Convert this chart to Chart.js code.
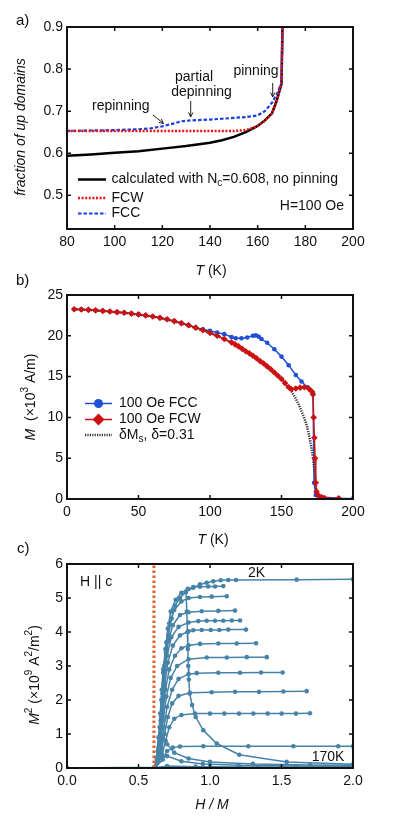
<!DOCTYPE html>
<html>
<head>
<meta charset="utf-8">
<title>Domains, magnetization and Arrott plot</title>
<script src="https://cdn.jsdelivr.net/npm/chart.js"></script>
<style>
  body { margin: 0; background: #fff; }
  #wrap { position: relative; width: 399px; height: 826px; }
  canvas { position: absolute; left: 0; }
</style>
</head>
<body>
<div id="wrap">
  <canvas id="chartA" width="399" height="280" style="top:0px"></canvas>
  <canvas id="chartB" width="399" height="282" style="top:268px"></canvas>
  <canvas id="chartC" width="399" height="296" style="top:530px"></canvas>
</div>

<script>
// ---------- panel a: fraction of up domains ----------
var tCalc   = [80, 90, 100, 110, 120, 130, 140, 145, 150, 155, 160, 163, 166, 168, 170, 170.5];
var fracCalc = [0.594, 0.597, 0.601, 0.605, 0.611, 0.617, 0.625, 0.631, 0.639, 0.650, 0.665, 0.678, 0.695, 0.725, 0.765, 0.93];
var tFCW    = [80, 100, 120, 140, 150, 155, 158, 160, 163, 166, 168, 170, 170.5];
var fracFCW = [0.653, 0.653, 0.653, 0.653, 0.653, 0.655, 0.660, 0.665, 0.677, 0.695, 0.725, 0.767, 0.93];
var tFCC    = [80, 90, 100, 110, 115, 120, 125, 128, 132, 140, 145, 150, 155, 160, 163, 166, 168, 170, 170.5];
var fracFCC = [0.653, 0.654, 0.655, 0.657, 0.659, 0.664, 0.671, 0.676, 0.678, 0.680, 0.682, 0.684, 0.686, 0.690, 0.700, 0.720, 0.740, 0.768, 0.93];
var xTicksA = [80, 100, 120, 140, 160, 180, 200];
var yTicksA = [0.5, 0.6, 0.7, 0.8, 0.9];

// ---------- panel b: magnetization vs temperature ----------
var tFCCb = [5, 10, 15, 20, 25, 30, 35, 40, 45, 50, 55, 60, 65, 70, 75, 80, 85, 90, 95, 100, 105, 110, 115, 118, 122, 126, 130, 132, 134, 136, 140, 145, 150, 155, 160, 164, 168, 172, 172.8, 174, 176, 178, 190, 200];
var mFCC  = [23.25, 23.22, 23.18, 23.12, 23.05, 22.97, 22.9, 22.82, 22.72, 22.62, 22.5, 22.36, 22.2, 22.02, 21.8, 21.55, 21.3, 21.0, 20.8, 20.6, 20.4, 20.2, 19.85, 19.7, 19.7, 19.8, 20.0, 20.05, 19.9, 19.6, 19.15, 18.35, 17.45, 16.4, 15.2, 14.4, 13.7, 13.0, 2.0, 0.5, 0.3, 0.25, 0.08, 0.04];
var tFCWb = [5, 10, 15, 20, 25, 30, 35, 40, 45, 50, 55, 60, 65, 70, 75, 80, 85, 90, 95, 100, 105, 110, 115, 117.5, 120, 122.5, 125, 127.5, 130, 132.5, 135, 137.5, 140, 142.5, 145, 147.5, 150, 152.5, 155, 157, 160, 163, 166, 169, 171, 172, 172.5, 173, 173.5, 174, 174.5, 176, 178, 180, 190];
var mFCW  = [23.25, 23.22, 23.18, 23.12, 23.05, 22.97, 22.9, 22.82, 22.72, 22.62, 22.5, 22.36, 22.2, 22.02, 21.8, 21.55, 21.3, 21.0, 20.7, 20.35, 20.0, 19.6, 19.2, 18.95, 18.7, 18.4, 18.1, 17.85, 17.55, 17.25, 16.9, 16.6, 16.25, 15.9, 15.5, 15.1, 14.7, 14.2, 13.7, 13.45, 13.55, 13.65, 13.7, 13.55, 13.2, 12.8, 10.0, 7.5, 5.0, 2.0, 0.9, 0.4, 0.2, 0.12, 0.1];
var tMs   = [5, 20, 40, 60, 80, 100, 110, 120, 130, 140, 150, 155, 157, 160, 163, 166, 168, 170, 171, 172, 173, 174, 174.6];
var mMs   = [23.25, 23.12, 22.82, 22.36, 21.55, 20.35, 19.6, 18.7, 17.55, 16.25, 14.7, 13.7, 13.2, 12.3, 11.2, 9.9, 8.8, 7.2, 6.2, 5.0, 3.5, 1.8, 0.3];
var xTicksB = [0, 50, 100, 150, 200];
var yTicksB = [0, 5, 10, 15, 20, 25];

// ---------- panel c: M^2 vs H/M isotherms ----------
var Nc = 0.608;
var iso2K = [[0, 0], [0.61, 0.02], [0.625, 0.3], [0.64, 0.9], [0.652, 1.6], [0.662, 2.3], [0.673, 2.9], [0.692, 3.4], [0.709, 3.9], [0.732, 4.4], [0.755, 4.78], [0.79, 5.0], [0.832, 5.18], [0.883, 5.3], [0.93, 5.4], [0.977, 5.45], [1.023, 5.49], [1.075, 5.52], [1.128, 5.53], [1.182, 5.53], [1.606, 5.54], [2.0, 5.55]];
var isoB = [[0.62, 0.02], [0.635, 0.5], [0.648, 1.2], [0.66, 2.0], [0.672, 2.8], [0.688, 3.5], [0.705, 4.1], [0.725, 4.6], [0.76, 4.95], [0.80, 5.15], [0.845, 5.27], [0.883, 5.32], [0.93, 5.33], [0.988, 5.34], [1.035, 5.34], [1.093, 5.35]];
var isoC = [[0.62, 0.02], [0.64, 0.6], [0.655, 1.4], [0.668, 2.2], [0.68, 3.0], [0.695, 3.7], [0.715, 4.25], [0.75, 4.65], [0.80, 4.9], [0.85, 5.0], [0.93, 5.03], [1.012, 5.04], [1.117, 5.05]];
var isoD = [[0.62, 0.02], [0.645, 0.7], [0.66, 1.5], [0.672, 2.3], [0.688, 3.1], [0.71, 3.75], [0.74, 4.2], [0.79, 4.5], [0.85, 4.58], [0.942, 4.61], [1.058, 4.62], [1.175, 4.63]];
var isoE = [[0.62, 0.02], [0.648, 0.8], [0.662, 1.6], [0.678, 2.5], [0.70, 3.3], [0.73, 3.85], [0.78, 4.15], [0.85, 4.28], [0.918, 4.32], [0.977, 4.33], [1.035, 4.33], [1.093, 4.33], [1.152, 4.34], [1.21, 4.34]];
var isoF = [[0.62, 0.02], [0.65, 0.8], [0.665, 1.6], [0.682, 2.4], [0.705, 3.1], [0.74, 3.6], [0.79, 3.9], [0.85, 4.02], [0.883, 4.05], [0.942, 4.06], [1.005, 4.06], [1.065, 4.06], [1.128, 4.07], [1.252, 4.07]];
var isoG = [[0.62, 0.02], [0.652, 0.8], [0.668, 1.5], [0.688, 2.3], [0.715, 2.9], [0.755, 3.3], [0.80, 3.52], [0.85, 3.61], [0.93, 3.65], [1.058, 3.66], [1.187, 3.66], [1.322, 3.67]];
var isoH = [[0.62, 0.02], [0.655, 0.7], [0.672, 1.4], [0.695, 2.1], [0.725, 2.65], [0.77, 3.0], [0.85, 3.2], [0.977, 3.25], [1.117, 3.25], [1.257, 3.26], [1.397, 3.26]];
var isoI = [[0.62, 0.02], [0.658, 0.6], [0.678, 1.2], [0.70, 1.8], [0.735, 2.3], [0.78, 2.62], [0.85, 2.76], [0.907, 2.79], [1.058, 2.8], [1.21, 2.8], [1.357, 2.81], [1.508, 2.81]];
var isoJ = [[0.62, 0.02], [0.66, 0.5], [0.682, 1.0], [0.705, 1.5], [0.735, 1.9], [0.78, 2.12], [0.86, 2.21], [1.012, 2.23], [1.175, 2.24], [1.343, 2.24], [1.513, 2.25], [1.676, 2.26]];
var isoK = [[0.62, 0.02], [0.665, 0.4], [0.69, 0.8], [0.715, 1.2], [0.75, 1.45], [0.80, 1.56], [0.895, 1.6], [1.0, 1.6], [1.1, 1.6], [1.203, 1.6], [1.303, 1.6], [1.403, 1.6], [1.501, 1.6], [1.601, 1.6], [1.699, 1.61]];
var isoL = [[0.62, 0.02], [0.67, 0.25], [0.70, 0.5], [0.74, 0.6], [0.79, 0.63], [0.953, 0.64], [1.268, 0.64], [1.583, 0.64], [1.897, 0.64], [2.0, 0.64]];
var isoM = [[0.832, 5.18], [0.838, 4.6], [0.842, 4.0], [0.845, 3.5], [0.848, 3.0], [0.852, 2.6], [0.858, 2.19], [0.875, 1.85], [0.90, 1.5], [0.953, 1.11], [1.047, 0.72], [1.205, 0.39], [1.536, 0.18], [2.0, 0.11]];
var isoN = [[0.62, 0.02], [0.65, 0.5], [0.67, 0.9], [0.70, 0.7], [0.75, 0.45], [0.85, 0.28], [1.0, 0.18], [1.3, 0.12], [1.7, 0.09], [2.0, 0.08]];
var isoO = [[0.62, 0.02], [0.66, 0.3], [0.70, 0.35], [0.80, 0.2], [0.95, 0.12], [1.2, 0.08], [1.6, 0.06], [2.0, 0.05]];
var iso170K = [[0.62, 0.01], [0.70, 0.06], [0.90, 0.04], [1.0, 0.04], [1.21, 0.03], [1.338, 0.03], [1.501, 0.03], [1.8, 0.03], [1.82, 0.03], [2.0, 0.03]];
var xTicksC = [0, 0.5, 1.0, 1.5, 2.0];
var yTicksC = [0, 1, 2, 3, 4, 5, 6];

var FONT = '"Liberation Sans", Arial, sans-serif';
Chart.defaults.font.family = FONT;
Chart.defaults.color = '#111';

function pts(xs, ys) { return xs.map(function (x, i) { return { x: x, y: ys[i] }; }); }
function pairs(arr) { return arr.map(function (p) { return { x: p[0], y: p[1] }; }); }

function axis(min, max, ticks, fmt, size, horiz) {
  return {
    type: 'linear', min: min, max: max,
    grid: { display: false, drawTicks: false },
    border: { display: false },
    ticks: { font: { size: 14 }, color: '#111', padding: horiz ? 5 : 4, callback: fmt, maxRotation: 0, autoSkip: false },
    afterBuildTicks: function (s) { s.ticks = ticks.map(function (v) { return { value: v }; }); },
    afterFit: function (s) { if (horiz) s.height = size; else s.width = size; }
  };
}

// box around the plot with inward ticks on all four sides
var frame = {
  id: 'frame',
  afterDatasetsDraw: function (chart) {
    var ctx = chart.ctx, a = chart.chartArea, x = chart.scales.x, y = chart.scales.y;
    ctx.save();
    ctx.strokeStyle = '#111';
    ctx.lineWidth = 1.5;
    ctx.beginPath();
    x.ticks.forEach(function (t) {
      var p = x.getPixelForValue(t.value);
      ctx.moveTo(p, a.bottom); ctx.lineTo(p, a.bottom - 4);
      ctx.moveTo(p, a.top); ctx.lineTo(p, a.top + 4);
    });
    y.ticks.forEach(function (t) {
      var p = y.getPixelForValue(t.value);
      ctx.moveTo(a.left, p); ctx.lineTo(a.left + 4, p);
      ctx.moveTo(a.right, p); ctx.lineTo(a.right - 4, p);
    });
    ctx.stroke();
    ctx.lineWidth = 2;
    ctx.strokeRect(a.left, a.top, a.right - a.left, a.bottom - a.top);
    ctx.restore();
  }
};

// text with italic / sub / sup pieces
function rich(ctx, parts, x, y, align, size) {
  size = size || 14;
  function fontFor(k) {
    var small = (k === 'sub' || k === 'sup');
    return (k === 'i' ? 'italic ' : '') + (small ? Math.round(size * 0.72) : size) + 'px ' + FONT;
  }
  var w = 0;
  parts.forEach(function (p) { ctx.font = fontFor(p[1]); w += ctx.measureText(p[0]).width; });
  var cx = align === 'center' ? x - w / 2 : (align === 'right' ? x - w : x);
  ctx.textAlign = 'left';
  ctx.textBaseline = 'middle';
  parts.forEach(function (p) {
    ctx.font = fontFor(p[1]);
    var dy = p[1] === 'sub' ? 4 : (p[1] === 'sup' ? -6 : 0);
    ctx.fillText(p[0], cx, y + dy);
    cx += ctx.measureText(p[0]).width;
  });
}

function vtitle(ctx, parts, cx, cy) {
  ctx.save();
  ctx.translate(cx, cy);
  ctx.rotate(-Math.PI / 2);
  rich(ctx, parts, 0, 0, 'center');
  ctx.restore();
}

function arrow(ctx, x1, y1, x2, y2) {
  var ang = Math.atan2(y2 - y1, x2 - x1), h = 5;
  ctx.save();
  ctx.strokeStyle = '#222';
  ctx.lineWidth = 1;
  ctx.beginPath();
  ctx.moveTo(x1, y1); ctx.lineTo(x2, y2);
  ctx.moveTo(x2 - h * Math.cos(ang - 0.45), y2 - h * Math.sin(ang - 0.45));
  ctx.lineTo(x2, y2);
  ctx.lineTo(x2 - h * Math.cos(ang + 0.45), y2 - h * Math.sin(ang + 0.45));
  ctx.stroke();
  ctx.restore();
}

function sample(ctx, ds, x1, x2, y, marker) {
  ctx.save();
  ctx.strokeStyle = ds.borderColor;
  ctx.lineWidth = ds.borderWidth;
  ctx.setLineDash(ds.borderDash || []);
  ctx.beginPath(); ctx.moveTo(x1, y); ctx.lineTo(x2, y); ctx.stroke();
  ctx.setLineDash([]);
  var m = (x1 + x2) / 2;
  ctx.fillStyle = ds.borderColor;
  if (marker === 'circle') {
    ctx.beginPath(); ctx.arc(m, y, 4.5, 0, Math.PI * 2); ctx.fill();
  } else if (marker === 'diamond') {
    ctx.beginPath(); ctx.moveTo(m, y - 6); ctx.lineTo(m + 6, y); ctx.lineTo(m, y + 6); ctx.lineTo(m - 6, y); ctx.closePath(); ctx.fill();
  }
  ctx.restore();
}

var commonOpts = function (pad, scales) {
  return {
    responsive: false, animation: false,
    layout: { padding: pad },
    plugins: { legend: { display: false }, tooltip: { enabled: false } },
    scales: scales
  };
};

// ---------- chart a ----------
var dsA = [
  { label: 'FCW', data: pts(tFCW, fracFCW), borderColor: '#f01010', borderWidth: 2.5, borderDash: [2, 1.6], pointRadius: 0, order: 0 },
  { label: 'FCC', data: pts(tFCC, fracFCC), borderColor: '#1a3fe0', borderWidth: 2.2, borderDash: [3.5, 2], pointRadius: 0, order: 1 },
  { label: 'calculated with Nc=0.608, no pinning', data: pts(tCalc, fracCalc), borderColor: '#000', borderWidth: 2.5, pointRadius: 0, order: 2 }
];
var notesA = {
  id: 'notesA',
  afterDraw: function (chart) {
    var ctx = chart.ctx;
    ctx.save();
    ctx.fillStyle = '#111';
    rich(ctx, [['a)', '']], 16, 21, 'left', 15);
    rich(ctx, [['repinning', '']], 92, 106, 'left');
    arrow(ctx, 153, 115, 163.5, 123.5);
    rich(ctx, [['partial', '']], 194, 77, 'center');
    rich(ctx, [['depinning', '']], 201.5, 92, 'center');
    arrow(ctx, 190.7, 101, 190.7, 117);
    rich(ctx, [['pinning', '']], 256, 71.5, 'center');
    arrow(ctx, 272.7, 83, 272.7, 97);
    sample(ctx, dsA[2], 78, 106, 179.5);
    sample(ctx, dsA[0], 78, 106, 198);
    sample(ctx, dsA[1], 78, 106, 213.5);
    ctx.fillStyle = '#111';
    rich(ctx, [['calculated with N', ''], ['c', 'sub'], ['=0.608, no pinning', '']], 111.5, 179.5, 'left');
    rich(ctx, [['FCW', '']], 111.5, 198, 'left');
    rich(ctx, [['FCC', '']], 111.5, 213.5, 'left');
    rich(ctx, [['H=100 Oe', '']], 344, 206, 'right');
    rich(ctx, [['T', 'i'], [' (K)', '']], 211, 271, 'center');
    vtitle(ctx, [['fraction of up domains', 'i']], 21, 127);
    ctx.restore();
  }
};
new Chart(document.getElementById('chartA'), {
  type: 'line',
  data: { datasets: dsA },
  options: commonOpts({ left: 0, right: 46, top: 27, bottom: 31 }, {
    x: axis(80, 200, xTicksA, function (v) { return String(v); }, 20, true),
    y: axis(0.42, 0.9, yTicksA, function (v) { return v.toFixed(1); }, 67, false)
  }),
  plugins: [frame, notesA]
});

// ---------- chart b ----------
var dsB = [
  { label: '100 Oe FCW', data: pts(tFCWb, mFCW), borderColor: '#cc1111', backgroundColor: '#cc1111', borderWidth: 1.5, pointStyle: 'rectRot', pointRadius: 3.3, pointBorderWidth: 0, order: 0 },
  { label: 'δMs, δ=0.31', data: pts(tMs, mMs), borderColor: '#333', borderWidth: 2.5, borderDash: [1.2, 1.2], pointRadius: 0, order: 1 },
  { label: '100 Oe FCC', data: pts(tFCCb, mFCC), borderColor: '#1f4fd6', backgroundColor: '#1f4fd6', borderWidth: 1.5, pointStyle: 'circle', pointRadius: 2.3, pointBorderWidth: 0, order: 2 }
];
var notesB = {
  id: 'notesB',
  afterDraw: function (chart) {
    var ctx = chart.ctx;
    ctx.save();
    ctx.fillStyle = '#111';
    rich(ctx, [['b)', '']], 16, 13, 'left', 15);
    sample(ctx, dsB[2], 85, 112, 135.5, 'circle');
    sample(ctx, dsB[0], 85, 112, 151.5, 'diamond');
    sample(ctx, dsB[1], 85, 112, 167);
    ctx.fillStyle = '#111';
    rich(ctx, [['100 Oe FCC', '']], 119, 135.5, 'left');
    rich(ctx, [['100 Oe FCW', '']], 119, 151.5, 'left');
    rich(ctx, [['δM', ''], ['s', 'sub'], [', δ=0.31', '']], 119, 167, 'left');
    rich(ctx, [['T', 'i'], [' (K)', '']], 213, 272, 'center');
    vtitle(ctx, [['M', 'i'], ['  (×10', ''], ['3', 'sup'], [' A/m)', '']], 31, 129);
    ctx.restore();
  }
};
new Chart(document.getElementById('chartB'), {
  type: 'line',
  data: { datasets: dsB },
  options: commonOpts({ left: 0, right: 46, top: 27, bottom: 31 }, {
    x: axis(0, 200, xTicksB, function (v) { return String(v); }, 20, true),
    y: axis(0, 25, yTicksB, function (v) { return String(v); }, 67, false)
  }),
  plugins: [frame, notesB]
});

// ---------- chart c ----------
var isoColor = '#4683a8';
var isotherms = [iso2K, isoB, isoC, isoD, isoE, isoF, isoG, isoH, isoI, isoJ, isoK, isoL, isoM, isoN, isoO, iso170K];
var dsC = [
  { label: 'Nc', data: pts([Nc, Nc], [0, 6]), borderColor: '#e8602c', borderWidth: 3, borderDash: [2.5, 2.5], pointRadius: 0, order: 0 }
].concat(isotherms.map(function (iso, i) {
  return { label: 'T' + i, data: pairs(iso), borderColor: isoColor, backgroundColor: isoColor, borderWidth: 1.5, pointRadius: 2.3, pointBorderWidth: 0, order: 1 + i };
}));
var notesC = {
  id: 'notesC',
  afterDraw: function (chart) {
    var ctx = chart.ctx;
    ctx.save();
    ctx.fillStyle = '#111';
    rich(ctx, [['c)', '']], 17, 19, 'left', 15);
    rich(ctx, [['H || c', '']], 80, 52.5, 'left');
    rich(ctx, [['2K', '']], 256.5, 43, 'center');
    rich(ctx, [['170K', '']], 328, 227, 'center');
    rich(ctx, [['H / M', 'i']], 212, 275, 'center');
    vtitle(ctx, [['M', 'i'], ['2', 'sup'], [' (×10', ''], ['9', 'sup'], [' A', ''], ['2', 'sup'], ['/m', ''], ['2', 'sup'], [')', '']], 35, 145);
    ctx.restore();
  }
};
new Chart(document.getElementById('chartC'), {
  type: 'line',
  data: { datasets: dsC },
  options: commonOpts({ left: 0, right: 46, top: 34, bottom: 38 }, {
    x: axis(0, 2, xTicksC, function (v) { return v.toFixed(1); }, 20, true),
    y: axis(0, 6, yTicksC, function (v) { return String(v); }, 67, false)
  }),
  plugins: [frame, notesC]
});
</script>
</body>
</html>
